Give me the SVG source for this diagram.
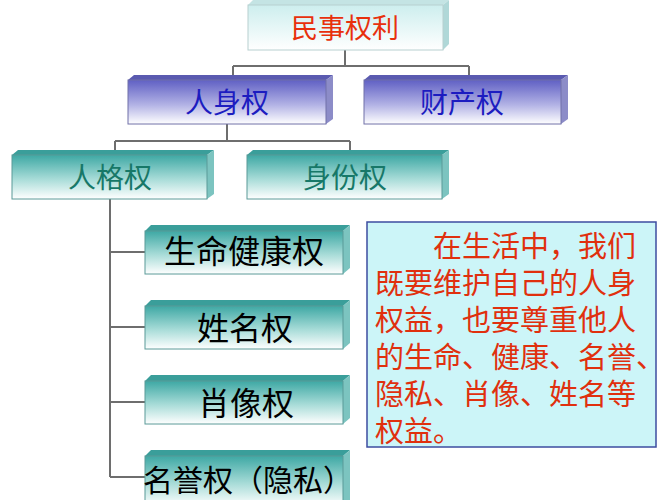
<svg xmlns="http://www.w3.org/2000/svg" width="667" height="500" viewBox="0 0 667 500">
<defs>
<linearGradient id="gTop" x1="0" y1="0" x2="0" y2="1"><stop offset="0" stop-color="#cdeeee"/><stop offset="1" stop-color="#ffffff"/></linearGradient>
<linearGradient id="gBlue" x1="0" y1="0" x2="0" y2="1"><stop offset="0" stop-color="#6060c4"/><stop offset="0.55" stop-color="#b0b0e4"/><stop offset="1" stop-color="#ffffff"/></linearGradient>
<linearGradient id="gTeal" x1="0" y1="0" x2="0" y2="1"><stop offset="0" stop-color="#3ea8a4"/><stop offset="0.55" stop-color="#a8dcd8"/><stop offset="1" stop-color="#ffffff"/></linearGradient>
</defs>
<style>
.t{font-family:"Noto Sans CJK SC","Noto Sans",sans-serif;text-anchor:middle}
.c{fill:none;stroke:#6e6e6e;stroke-width:2}
</style>
<rect width="667" height="500" fill="#ffffff"/>
<g id="connectors">
<path class="c" d="M345,50 V66 M233,66 H469 M233,66 V75 M469,66 V75"/>
<path class="c" d="M227,124 V141 M115,141 H350 M115,141 V150 M350,141 V150"/>
<path class="c" d="M110,199 V477 M110,252 H145 M110,327 H145 M110,402 H145 M110,477 H145"/>
</g>
<g id="n-minshi">
<polygon points="248,5 253,0 449,0 443,5" fill="#c4e4e4"/>
<polygon points="443,5 449,0 449,44 443,50" fill="#b0d8d8"/>
<rect x="248" y="5" width="195" height="45" fill="url(#gTop)" stroke="#b8d0d0" stroke-width="1"/>
<text class="t" x="345" y="38" font-size="27" fill="#e8300c">民事权利</text>
</g>
<g id="n-renshen">
<polygon points="128,80 134,75 333,75 326,80" fill="#5a5ab0"/>
<polygon points="326,80 333,75 333,119 326,124" fill="#8c8cc8"/>
<rect x="128" y="80" width="198" height="44" fill="url(#gBlue)" stroke="#7070a8" stroke-width="1"/>
<text class="t" x="227" y="113" font-size="28" fill="#1c1cc0">人身权</text>
</g>
<g id="n-caichan">
<polygon points="364,80 370,75 568,75 561,80" fill="#5a5ab0"/>
<polygon points="561,80 568,75 568,119 561,124" fill="#8c8cc8"/>
<rect x="364" y="80" width="197" height="44" fill="url(#gBlue)" stroke="#7070a8" stroke-width="1"/>
<text class="t" x="462" y="113" font-size="28" fill="#1c1cc0">财产权</text>
</g>
<g id="n-renge">
<polygon points="12,155 18,150 214,150 207,155" fill="#3a9e9a"/>
<polygon points="207,155 214,150 214,194 207,199" fill="#7cc4c0"/>
<rect x="12" y="155" width="195" height="44" fill="url(#gTeal)" stroke="#5a9a98" stroke-width="1"/>
<text class="t" x="110" y="188" font-size="28" fill="#177868">人格权</text>
</g>
<g id="n-shenfen">
<polygon points="247,155 253,150 449,150 442,155" fill="#3a9e9a"/>
<polygon points="442,155 449,150 449,194 442,199" fill="#7cc4c0"/>
<rect x="247" y="155" width="195" height="44" fill="url(#gTeal)" stroke="#5a9a98" stroke-width="1"/>
<text class="t" x="345" y="188" font-size="28" fill="#177868">身份权</text>
</g>
<g id="n-shengming">
<polygon points="145,231 151,225 350,225 343,231" fill="#3a9e9a"/>
<polygon points="343,231 350,225 350,268 343,274" fill="#7cc4c0"/>
<rect x="145" y="231" width="198" height="43" fill="url(#gTeal)" stroke="#5a9a98" stroke-width="1"/>
<text class="t" x="244" y="263" font-size="32" fill="#000000">生命健康权</text>
</g>
<g id="n-xingming">
<polygon points="145,306 151,300 350,300 343,306" fill="#3a9e9a"/>
<polygon points="343,306 350,300 350,343 343,349" fill="#7cc4c0"/>
<rect x="145" y="306" width="198" height="43" fill="url(#gTeal)" stroke="#5a9a98" stroke-width="1"/>
<text class="t" x="245" y="340" font-size="32" fill="#000000">姓名权</text>
</g>
<g id="n-xiaoxiang">
<polygon points="145,381 151,375 350,375 343,381" fill="#3a9e9a"/>
<polygon points="343,381 350,375 350,418 343,424" fill="#7cc4c0"/>
<rect x="145" y="381" width="198" height="43" fill="url(#gTeal)" stroke="#5a9a98" stroke-width="1"/>
<text class="t" x="246" y="415" font-size="32" fill="#000000">肖像权</text>
</g>
<g id="n-mingyu">
<polygon points="145,456 151,450 350,450 343,456" fill="#3a9e9a"/>
<polygon points="343,456 350,450 350,500 343,500" fill="#7cc4c0"/>
<rect x="145" y="456" width="198" height="50" fill="url(#gTeal)" stroke="#5a9a98" stroke-width="1"/>
<text x="143" y="491" font-size="30" fill="#000000" style="font-family:'Noto Sans CJK SC','Noto Sans',sans-serif">名誉权（隐私）</text>
</g>
<g id="n-note">
<rect x="367" y="222" width="289" height="225" fill="#ccf5f8" stroke="#3c4ca0" stroke-width="1.5"/>
<g font-size="29" fill="#e0300e" style="font-family:'Noto Sans CJK SC','Noto Sans',sans-serif">
<text x="433" y="257">在生活中，我们</text>
<text x="375" y="294">既要维护自己的人身</text>
<text x="375" y="331">权益，也要尊重他人</text>
<text x="375" y="368">的生命、健康、名誉、</text>
<text x="375" y="405">隐私、肖像、姓名等</text>
<text x="375" y="442">权益。</text>
</g>
</g>
</svg>
